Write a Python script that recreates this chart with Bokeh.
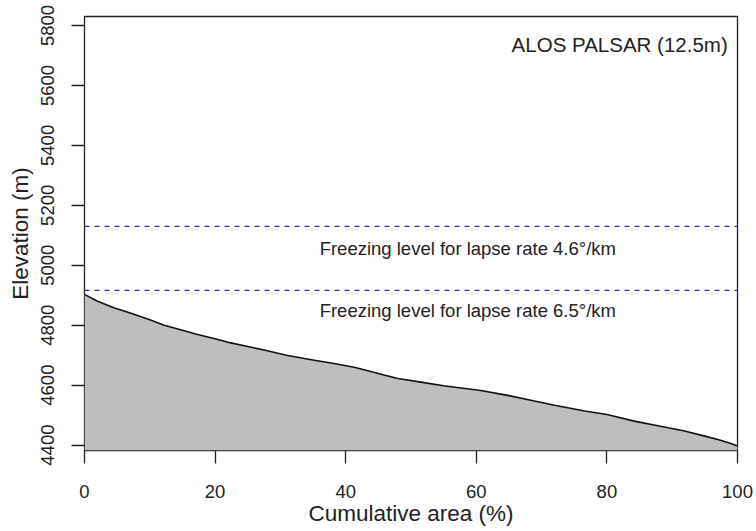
from bokeh.plotting import figure
from bokeh.models import Span, FixedTicker, Range1d
from bokeh.core.properties import value
from bokeh.embed import file_html
from bokeh.resources import INLINE

# ---- data ----
cum_area = [0, 2, 4.5, 7, 10, 12.2, 15, 17.3, 20, 22.4, 25, 28, 31.1, 35.2, 38, 41.3,
            44, 46, 48, 51.5, 55, 60.7, 65, 68.9, 72, 76.6, 80, 84.2, 88, 91.9, 95,
            97, 99, 100]
elevation = [4903, 4880, 4858, 4841, 4818, 4800, 4783, 4769, 4755, 4741, 4729, 4715,
             4699, 4683, 4673, 4660, 4645, 4633, 4622, 4610, 4598, 4582, 4565, 4547,
             4533, 4514, 4502, 4480, 4464, 4447, 4430, 4419, 4405, 4397]
freeze_levels = [5130, 4916]
freeze_labels = ["Freezing level for lapse rate 4.6°/km",
                 "Freezing level for lapse rate 6.5°/km"]
freeze_label_x = [58.7, 58.7]
freeze_label_y = [5055, 4850]
dem_label = ["ALOS PALSAR (12.5m)"]
dem_label_x = [98.5]
dem_label_y = [5737]
x_ticks = [0, 20, 40, 60, 80, 100]
y_ticks = [4400, 4600, 4800, 5000, 5200, 5400, 5600, 5800]
X_MIN, X_MAX = 0, 100
Y_MIN, Y_MAX = 4382, 5830

FONT = "Liberation Sans"

p = figure(width=756, height=531, output_backend="svg", toolbar_location=None,
           x_range=Range1d(X_MIN, X_MAX), y_range=Range1d(Y_MIN, Y_MAX),
           min_border_left=84, min_border_right=19, min_border_top=16,
           min_border_bottom=81)
p.background_fill_color = "white"
p.border_fill_color = "white"
p.outline_line_color = "#222222"
p.outline_line_width = 1.3
p.grid.visible = False

# filled hypsometric curve
p.varea(x=cum_area, y1=[Y_MIN] * len(cum_area), y2=elevation, fill_color="#bebebe")
p.line(cum_area, elevation, line_color="#111111", line_width=1.6)

for lvl in freeze_levels:
    p.add_layout(Span(location=lvl, dimension="width", line_color="#2a2ac4",
                      line_width=1.3, line_dash="5 5"))

p.text(x=freeze_label_x, y=freeze_label_y, text=freeze_labels,
       text_font=value(FONT), text_font_size="18.5px", text_color="#222222",
       text_align="center", text_baseline="middle")
p.text(x=dem_label_x, y=dem_label_y, text=dem_label,
       text_font=value(FONT), text_font_size="20.5px", text_color="#222222",
       text_align="right", text_baseline="middle")

for ax in (p.xaxis[0], p.yaxis[0]):
    ax.axis_line_color = None
    ax.major_tick_line_color = "#222222"
    ax.major_tick_line_width = 1.3
    ax.major_tick_out = 13
    ax.major_tick_in = 0
    ax.minor_tick_line_color = None
    ax.major_label_text_font = FONT
    ax.major_label_text_font_size = "18.5px"
    ax.major_label_text_color = "#222222"
    ax.axis_label_text_font = FONT
    ax.axis_label_text_font_size = "22.5px"
    ax.axis_label_text_font_style = "normal"
    ax.axis_label_text_color = "#222222"

p.xaxis[0].ticker = FixedTicker(ticks=x_ticks)
p.yaxis[0].ticker = FixedTicker(ticks=y_ticks)
p.xaxis[0].axis_label = "Cumulative area (%)"
p.yaxis[0].axis_label = "Elevation (m)"
p.yaxis[0].major_label_orientation = "vertical"
p.xaxis[0].major_label_standoff = 21
p.yaxis[0].major_label_standoff = 17
p.xaxis[0].axis_label_standoff = 0
p.yaxis[0].axis_label_standoff = 6

open("out.html", "w").write(file_html(p, INLINE))
